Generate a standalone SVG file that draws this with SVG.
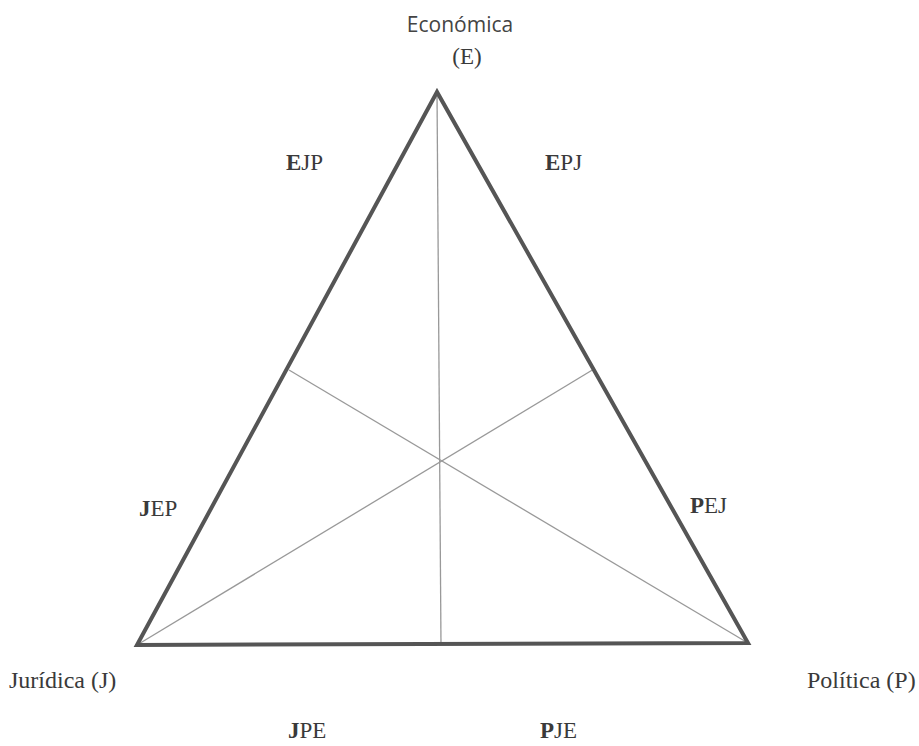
<svg xmlns="http://www.w3.org/2000/svg" width="919" height="746" viewBox="0 0 919 746">
<style>
.lbl{font-family:"Liberation Serif",serif;font-size:23px;fill:#3a3a3a}
.v{font-size:24px}
.b{font-weight:bold}
.sans{font-family:"Open Sans","Liberation Sans",sans-serif;font-size:21px;fill:#444}
.thin{stroke:#999;stroke-width:1.3;fill:none}
.thick{stroke:#555;stroke-width:4;fill:none;stroke-linejoin:miter}
</style>
<rect width="919" height="746" fill="#fff"/>
<g id="connectors">
<line class="thin" x1="437" y1="92" x2="441" y2="645"/>
<line class="thin" x1="137" y1="645" x2="594" y2="369"/>
<line class="thin" x1="748" y1="643" x2="289" y2="370"/>
</g>
<g id="triangle">
<polygon class="thick" points="437,92 137,645 748,643"/>
</g>
<g id="node-E">
<text class="sans" x="460" y="32" text-anchor="middle">Económica</text>
<text class="lbl" x="467" y="64" text-anchor="middle">(E)</text>
</g>
<g id="node-J"><text class="lbl v" x="9" y="688">Jurídica (J)</text></g>
<g id="node-P"><text class="lbl v" x="807" y="688">Política (P)</text></g>
<g id="regions">
<text class="lbl" x="286" y="170"><tspan class="b">E</tspan>JP</text>
<text class="lbl" x="545" y="170"><tspan class="b">E</tspan>PJ</text>
<text class="lbl" x="139" y="516"><tspan class="b">J</tspan>EP</text>
<text class="lbl" x="690" y="513"><tspan class="b">P</tspan>EJ</text>
<text class="lbl" x="288" y="738"><tspan class="b">J</tspan>PE</text>
<text class="lbl" x="540" y="738"><tspan class="b">P</tspan>JE</text>
</g>
</svg>
